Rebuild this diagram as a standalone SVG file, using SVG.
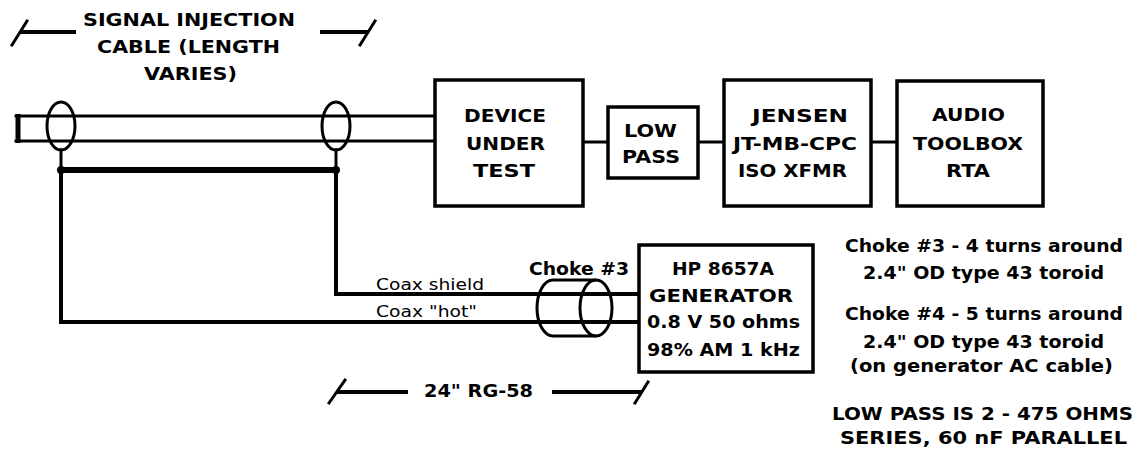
<svg xmlns="http://www.w3.org/2000/svg" width="1137" height="450" viewBox="0 0 1137 450">
<style>
.b{font-family:"DejaVu Sans","Liberation Sans",sans-serif;font-weight:bold;font-size:18px;fill:#000}
.n{font-family:"DejaVu Sans","Liberation Sans",sans-serif;font-size:15px;fill:#000}
.box{fill:#fff;stroke:#000;stroke-width:3.5}
.ln{fill:none;stroke:#000;stroke-width:3;stroke-linecap:square}
.th{fill:none;stroke:#000;stroke-width:4}
</style>
<rect width="1137" height="450" fill="#fff"/>
<g id="dimension-cable">
<line class="th" x1="20" y1="32" x2="76" y2="32"/>
<line class="ln" x1="12" y1="45" x2="27" y2="21"/>
<line class="th" x1="320" y1="32" x2="368" y2="32"/>
<line class="ln" x1="360" y1="45" x2="375" y2="21"/>
<text class="b" x="83" y="26" textLength="212" lengthAdjust="spacingAndGlyphs">SIGNAL INJECTION</text>
<text class="b" x="97" y="53" textLength="183" lengthAdjust="spacingAndGlyphs">CABLE (LENGTH</text>
<text class="b" x="144" y="80" textLength="93" lengthAdjust="spacingAndGlyphs">VARIES)</text>
</g>
<g id="cable">
<line class="ln" x1="16" y1="116" x2="435" y2="116"/>
<line class="ln" x1="16" y1="141" x2="435" y2="141"/>
<line x1="18" y1="114" x2="18" y2="143" stroke="#000" stroke-width="5"/>
</g>
<g id="clamp-left">
<ellipse cx="61" cy="126" rx="14" ry="24" fill="none" stroke="#000" stroke-width="3"/>
<line class="ln" x1="61" y1="150" x2="61" y2="170"/>
<circle cx="61" cy="170" r="4"/>
</g>
<g id="clamp-right">
<ellipse cx="336" cy="126" rx="14" ry="24" fill="none" stroke="#000" stroke-width="3"/>
<line class="ln" x1="336" y1="150" x2="336" y2="170"/>
<circle cx="336" cy="170" r="4"/>
</g>
<g id="connectors">
<line x1="61" y1="170" x2="336" y2="170" stroke="#000" stroke-width="6"/>
<polyline class="th" points="61,170 61,322 639,322"/>
<polyline class="th" points="336,170 336,294 639,294"/>
<line class="ln" x1="583" y1="142" x2="608" y2="142"/>
<line class="ln" x1="698" y1="142" x2="724" y2="142"/>
<line class="ln" x1="871" y1="142" x2="897" y2="142"/>
<text class="n" x="376" y="290" textLength="108" lengthAdjust="spacingAndGlyphs">Coax shield</text>
<text class="n" x="376" y="317" textLength="101" lengthAdjust="spacingAndGlyphs">Coax "hot"</text>
</g>
<g id="dut">
<rect class="box" x="435" y="80" width="148" height="126"/>
<text class="b" x="464" y="122" textLength="82" lengthAdjust="spacingAndGlyphs">DEVICE</text>
<text class="b" x="466" y="150" textLength="79" lengthAdjust="spacingAndGlyphs">UNDER</text>
<text class="b" x="473" y="177" textLength="62" lengthAdjust="spacingAndGlyphs">TEST</text>
</g>
<g id="lowpass">
<rect class="box" x="608" y="107" width="90" height="71" stroke-width="4.5"/>
<text class="b" x="624" y="137" textLength="53" lengthAdjust="spacingAndGlyphs">LOW</text>
<text class="b" x="622" y="163" textLength="58" lengthAdjust="spacingAndGlyphs">PASS</text>
</g>
<g id="jensen">
<rect class="box" x="724" y="80" width="147" height="126"/>
<text class="b" x="752" y="122" textLength="96" lengthAdjust="spacingAndGlyphs">JENSEN</text>
<text class="b" x="733" y="150" textLength="124" lengthAdjust="spacingAndGlyphs">JT-MB-CPC</text>
<text class="b" x="738" y="177" textLength="109" lengthAdjust="spacingAndGlyphs">ISO XFMR</text>
</g>
<g id="rta">
<rect class="box" x="897" y="81" width="146" height="125"/>
<text class="b" x="932" y="121" textLength="73" lengthAdjust="spacingAndGlyphs">AUDIO</text>
<text class="b" x="913" y="150" textLength="110" lengthAdjust="spacingAndGlyphs">TOOLBOX</text>
<text class="b" x="946" y="177" textLength="44" lengthAdjust="spacingAndGlyphs">RTA</text>
</g>
<g id="choke3">
<path d="M553,280 A16,28 0 0 0 553,336 M553,280 L596,280 M553,336 L596,336" fill="none" stroke="#000" stroke-width="3"/>
<ellipse cx="596" cy="308" rx="16" ry="28" fill="none" stroke="#000" stroke-width="3"/>
<text class="b" x="529" y="275" textLength="100" lengthAdjust="spacingAndGlyphs">Choke #3</text>
</g>
<g id="generator">
<rect class="box" x="639" y="245" width="174" height="127"/>
<text class="b" x="672" y="275" textLength="102" lengthAdjust="spacingAndGlyphs">HP 8657A</text>
<text class="b" x="649" y="302" textLength="144" lengthAdjust="spacingAndGlyphs">GENERATOR</text>
<text class="b" x="647" y="328" textLength="153" lengthAdjust="spacingAndGlyphs">0.8 V 50 ohms</text>
<text class="b" x="647" y="356" textLength="153" lengthAdjust="spacingAndGlyphs">98% AM 1 kHz</text>
</g>
<g id="dimension-rg58">
<line class="ln" x1="329" y1="403" x2="345" y2="380"/>
<line class="th" x1="337" y1="392" x2="408" y2="392"/>
<line class="th" x1="552" y1="392" x2="642" y2="392"/>
<line class="ln" x1="635" y1="403" x2="648" y2="382"/>
<text class="b" x="424" y="397" textLength="109" lengthAdjust="spacingAndGlyphs">24" RG-58</text>
</g>
<g id="notes">
<text class="b" x="845" y="252" textLength="278" lengthAdjust="spacingAndGlyphs">Choke #3 - 4 turns around</text>
<text class="b" x="863" y="279" textLength="241" lengthAdjust="spacingAndGlyphs">2.4" OD type 43 toroid</text>
<text class="b" x="845" y="320" textLength="278" lengthAdjust="spacingAndGlyphs">Choke #4 - 5 turns around</text>
<text class="b" x="863" y="348" textLength="241" lengthAdjust="spacingAndGlyphs">2.4" OD type 43 toroid</text>
<text class="b" x="850" y="372" textLength="263" lengthAdjust="spacingAndGlyphs">(on generator AC cable)</text>
<text class="b" x="832" y="420" textLength="301" lengthAdjust="spacingAndGlyphs">LOW PASS IS 2 - 475 OHMS</text>
<text class="b" x="840" y="444" textLength="287" lengthAdjust="spacingAndGlyphs">SERIES, 60 nF PARALLEL</text>
</g>
</svg>
